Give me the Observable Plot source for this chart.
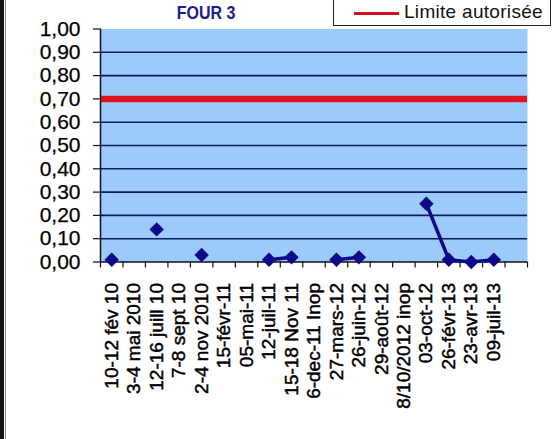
<!DOCTYPE html>
<html>
<head>
<meta charset="utf-8">
<script src="https://cdn.jsdelivr.net/npm/d3@7"></script>
<script src="https://cdn.jsdelivr.net/npm/@observablehq/plot@0.6"></script>
<style>
  html, body { margin: 0; padding: 0; background: #fff; }
  #wrap { position: relative; width: 557px; height: 439px; overflow: hidden; font-family: "Liberation Sans", Arial, sans-serif; }
  #chart { position: absolute; left: 0; top: 0; }
  #chart g[aria-label="x-axis tick label"] text { stroke: #000; stroke-width: 0.45px; }
  #chart g[aria-label="y-axis tick label"] text { stroke: #000; stroke-width: 0.25px; }
  .leftbar { position: absolute; left: 0; top: 0; width: 4px; height: 439px; background: #111; }
  .leftline { position: absolute; left: 5px; top: 0; width: 1px; height: 439px; background: #888; }
  .title { position: absolute; left: 150px; width: 112px; top: 4px; text-align: center; font-weight: bold; font-size: 16px; color: #1c1c8c; transform: scaleY(1.1); }
  .legend { position: absolute; left: 333px; top: -2px; width: 218px; height: 28px; border: 1px solid #222; background: #fff; box-sizing: border-box; }
  .legend .sw { position: absolute; left: 20px; top: 13px; width: 45px; height: 3px; background: #d0101c; }
  .legend .lab { position: absolute; left: 70px; top: 2px; font-size: 19px; color: #111; white-space: nowrap; letter-spacing: 0.3px; }
</style>
</head>
<body>
<div id="wrap">
  <div id="chart"></div>
  <div class="leftbar"></div>
  <div class="leftline"></div>
  <div class="title">FOUR 3</div>
  <div class="legend"><span class="sw"></span><span class="lab">Limite autorisée</span></div>
</div>
<script>
const categories = [
  "10-12 fév 10", "3-4 mai 2010", "12-16 juill 10", "7-8 sept 10", "2-4 nov 2010",
  "15-févr-11", "05-mai-11", "12-juil-11", "15-18 Nov 11", "6-dec-11 Inop",
  "27-mars-12", "26-juin-12", "29-août-12", "8/10/2012 inop", "03-oct-12",
  "26-févr-13", "23-avr-13", "09-juil-13", ""
];
const values = [
  0.01, null, 0.14, null, 0.03,
  null, null, 0.01, 0.02, null,
  0.01, 0.02, null, null, 0.25,
  0.01, 0.00, 0.01, null
];
const limit = [0.70];
const yTicks = [0, 0.1, 0.2, 0.3, 0.4, 0.5, 0.6, 0.7, 0.8, 0.9, 1.0];
const gridTicks = [0.1, 0.2, 0.3, 0.4, 0.5, 0.6, 0.8, 0.9];

const rows = categories.map((c, i) => ({pos: i + 0.5, label: c, value: values[i]}));
const boundaries = d3.range(categories.length + 1);
const labelPos = rows.map(d => d.pos);
const navy = "#0a0a8a";
const fmt = d => d.toFixed(2).replace(".", ",");

const chart = Plot.plot({
  width: 557,
  height: 439,
  marginLeft: 100,
  marginRight: 30,
  marginTop: 28.5,
  marginBottom: 177.5,
  style: {fontFamily: "Liberation Sans, Arial, sans-serif", background: "transparent", color: "#000"},
  x: {type: "linear", domain: [0, categories.length], axis: null},
  y: {domain: [0, 1], axis: null},
  marks: [
    Plot.frame({fill: "#9ccbfb", stroke: null}),
    Plot.gridY(gridTicks, {stroke: "#0c1a5e", strokeOpacity: 1, strokeWidth: 1.6}),
    Plot.ruleY(limit, {stroke: "#e0121c", strokeWidth: 6.5}),
    Plot.ruleY([0], {stroke: "#111", strokeWidth: 1.5}),
    Plot.ruleX([0], {stroke: "#111", strokeWidth: 1.5}),
    Plot.axisY({ticks: yTicks, label: null, tickSize: 7, tickPadding: 13, tickFormat: fmt, fontSize: 21, stroke: "#111", strokeWidth: 1.2, style: "letter-spacing:1.2px"}),
    Plot.axisX({ticks: boundaries, label: null, tickSize: 6, tickFormat: () => "", stroke: "#111", strokeWidth: 1.2}),
    Plot.axisX({ticks: labelPos, label: null, tickSize: 0, tickPadding: 21, tickRotate: -90, fontSize: 19,
      tickFormat: d => categories[Math.floor(d)], style: "letter-spacing:1.8px"}),
    Plot.lineY(rows, {x: "pos", y: "value", stroke: navy, strokeWidth: 3.5}),
    Plot.dot(rows.filter(d => d.value != null), {x: "pos", y: "value", symbol: "diamond2", r: 6.5, fill: navy, stroke: null})
  ]
});
document.getElementById("chart").appendChild(chart);
</script>
</body>
</html>
